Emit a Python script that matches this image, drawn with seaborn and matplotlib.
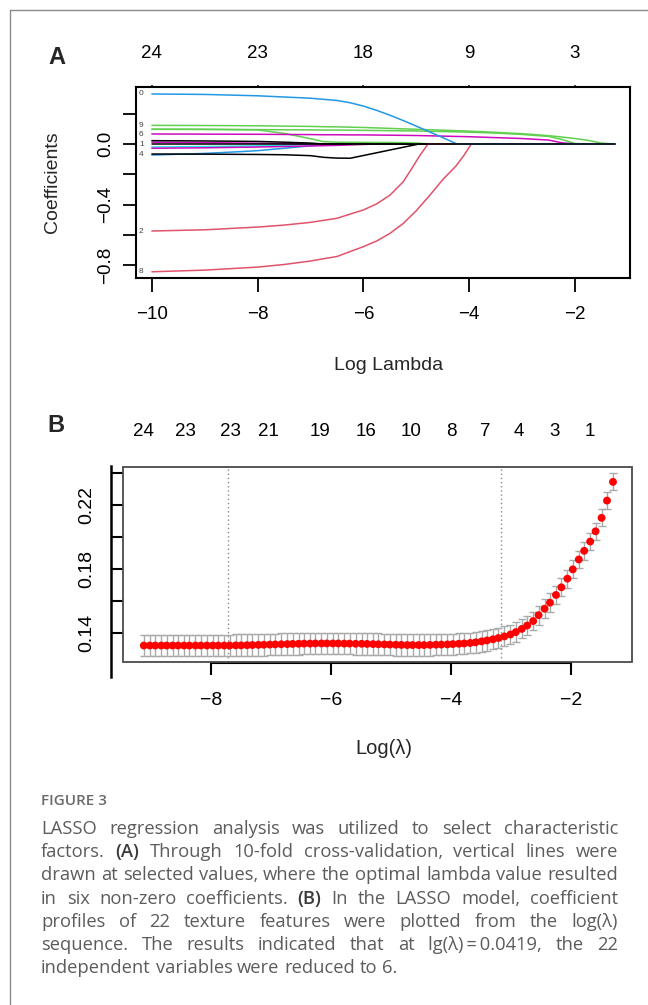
import numpy as np
import pandas as pd
import matplotlib
matplotlib.use("Agg")
import matplotlib.pyplot as plt
import seaborn as sns
from matplotlib.lines import Line2D
from matplotlib.patches import Rectangle
from matplotlib.transforms import blended_transform_factory

# ---------------- Panel A data (coefficient paths) ----------------
log_lambda_a = [-10, -9, -8, -7.5, -7, -6.75, -6.5, -6.25, -6, -5.75, -5.5, -5.25,
                -5, -4.75, -4.5, -4.25, -4, -3.5, -3, -2.5, -2.25, -2, -1.75, -1.5, -1.24]
coef_green1 = [0.123, 0.122, 0.120, 0.118, 0.116, 0.114, 0.113, 0.111, 0.109, 0.106, 0.103, 0.100,
               0.097, 0.094, 0.091, 0.088, 0.085, 0.077, 0.068, 0.055, 0.046, 0.036, 0.024, 0.006, 0]
coef_green2 = [0.098, 0.097, 0.095, 0.094, 0.093, 0.092, 0.092, 0.091, 0.090, 0.089, 0.088, 0.087,
               0.086, 0.084, 0.082, 0.080, 0.078, 0.072, 0.063, 0.050, 0.030, 0.003, 0, 0, 0]
coef_green3 = [0.097, 0.096, 0.093, 0.070, 0.035, 0.015, 0.012, 0.011, 0.011, 0.010, 0.010, 0.009,
               0.006, 0, 0, 0, 0, 0, 0, 0, 0, 0, 0, 0, 0]
coef_magenta_top = [0.066, 0.065, 0.064, 0.063, 0.062, 0.061, 0.061, 0.060, 0.060, 0.059, 0.058, 0.057,
                    0.056, 0.054, 0.052, 0.050, 0.048, 0.042, 0.036, 0.026, 0.008, 0, 0, 0, 0]
coef_zero = [0] * 25

red8_x = [-10, -9, -8, -7.5, -7, -6.5, -6, -5.75, -5.5, -5.25, -5, -4.75, -4.5, -4.25, -4.1, -3.96, -1.24]
red8_y = [-0.843, -0.832, -0.812, -0.795, -0.772, -0.742, -0.677, -0.640, -0.590, -0.525, -0.440,
          -0.340, -0.235, -0.145, -0.075, 0, 0]
red2_x = [-10, -9, -8, -7.5, -7, -6.5, -6, -5.75, -5.5, -5.25, -5.1, -4.95, -4.78, -1.24]
red2_y = [-0.574, -0.566, -0.548, -0.535, -0.517, -0.490, -0.435, -0.395, -0.338, -0.250, -0.170,
          -0.085, 0, 0]
blue_top_x = [-10, -9, -8, -7, -6.5, -6.25, -6, -5.75, -5.5, -5.25, -5, -4.75, -4.5, -4.23, -1.24]
blue_top_y = [0.330, 0.327, 0.318, 0.302, 0.287, 0.272, 0.250, 0.222, 0.190, 0.155, 0.118, 0.080,
              0.042, 0, 0]
black_low_x = [-10, -9, -8, -7.5, -7, -6.75, -6.5, -6.25, -5.6, -4.95, -1.24]
black_low_y = [-0.066, -0.067, -0.069, -0.071, -0.077, -0.088, -0.093, -0.094, -0.047, 0, 0]
blue_low_x = [-10, -9, -8.3, -8, -7.37, -6.86, -6.7, -1.24]
blue_low_y = [-0.073, -0.062, -0.050, -0.044, -0.024, -0.007, 0, 0]
black_up_x = [-10, -9, -8, -7.5, -7, -6.75, -1.24]
black_up_y = [0.022, 0.020, 0.017, 0.012, 0.006, 0, 0]
magenta_mid_x = [-10, -9, -8, -7.5, -7, -1.24]
magenta_mid_y = [0.012, 0.009, 0.005, 0.003, 0, 0]
magenta_low_x = [-10, -9, -8, -7, -6.5, -6, -5.75, -1.24]
magenta_low_y = [-0.028, -0.025, -0.020, -0.013, -0.009, -0.003, 0, 0]
cyan_x = [-10, -9, -8, -7.5, -7, -6.75, -1.24]
cyan_y = [-0.020, -0.017, -0.012, -0.008, -0.003, 0, 0]

a_xticks = [-10, -8, -6, -4, -2]
a_xticklabels = ["\u221210", "\u22128", "\u22126", "\u22124", "\u22122"]
a_top_labels = ["24", "23", "18", "9", "3"]
a_yticks = [0.2, 0.0, -0.2, -0.4, -0.6, -0.8]
a_yticklabels = ["", "0.0", "", "\u22120.4", "", "\u22120.8"]
a_var_labels = ["0", "9", "6", "1", "4", "2", "8"]
a_var_label_y = [0.330, 0.125, 0.060, -0.005, -0.072, -0.574, -0.843]

# ---------------- Panel B data (cross-validation) ----------------
log_lambda_b = [-9.12, -9.02, -8.93, -8.83, -8.74, -8.64, -8.55, -8.45, -8.36, -8.26,
                -8.17, -8.07, -7.97, -7.88, -7.78, -7.69, -7.59, -7.50, -7.40, -7.31,
                -7.21, -7.12, -7.02, -6.93, -6.83, -6.73, -6.64, -6.54, -6.45, -6.35,
                -6.26, -6.16, -6.07, -5.97, -5.88, -5.78, -5.69, -5.59, -5.49, -5.40,
                -5.30, -5.21, -5.11, -5.02, -4.92, -4.83, -4.73, -4.64, -4.54, -4.45,
                -4.35, -4.25, -4.16, -4.06, -3.97, -3.87, -3.78, -3.68, -3.59, -3.49,
                -3.40, -3.30, -3.21, -3.11, -3.01, -2.92, -2.82, -2.73, -2.63, -2.54,
                -2.44, -2.35, -2.25, -2.16, -2.06, -1.97, -1.87, -1.78, -1.68, -1.59,
                -1.49, -1.40, -1.30]
mse_b = [0.1322, 0.1322, 0.1322, 0.1322, 0.1322, 0.1322, 0.1322, 0.1322, 0.1322, 0.1322,
         0.1322, 0.1322, 0.1322, 0.1322, 0.1322, 0.1322, 0.1323, 0.1323, 0.1324, 0.1325,
         0.1326, 0.1327, 0.1328, 0.1329, 0.1330, 0.1331, 0.1332, 0.1333, 0.1334, 0.1334,
         0.1335, 0.1335, 0.1335, 0.1335, 0.1335, 0.1334, 0.1334, 0.1333, 0.1333, 0.1332,
         0.1331, 0.1330, 0.1329, 0.1328, 0.1327, 0.1326, 0.1325, 0.1325, 0.1325, 0.1325,
         0.1326, 0.1327, 0.1328, 0.1329, 0.1331, 0.1333, 0.1335, 0.1338, 0.1342, 0.1348,
         0.1354, 0.1361, 0.1369, 0.1379, 0.1391, 0.1406, 0.1426, 0.1447, 0.1475, 0.1512,
         0.1552, 0.1590, 0.1638, 0.1686, 0.1740, 0.1798, 0.1860, 0.1914, 0.1972, 0.2036,
         0.2120, 0.2228, 0.2345]
sd_b = [0.0068, 0.0068, 0.0068, 0.0068, 0.0068, 0.0068, 0.0068, 0.0068, 0.0068, 0.0068,
        0.0068, 0.0068, 0.0068, 0.0068, 0.0068, 0.0068, 0.0068, 0.0068, 0.0068, 0.0068,
        0.0068, 0.0068, 0.0068, 0.0068, 0.0068, 0.0068, 0.0068, 0.0068, 0.0068, 0.0068,
        0.0068, 0.0068, 0.0068, 0.0068, 0.0068, 0.0068, 0.0068, 0.0068, 0.0068, 0.0068,
        0.0068, 0.0068, 0.0068, 0.0068, 0.0068, 0.0068, 0.0068, 0.0068, 0.0068, 0.0068,
        0.0068, 0.0067, 0.0067, 0.0067, 0.0066, 0.0066, 0.0066, 0.0065, 0.0065, 0.0064,
        0.0064, 0.0063, 0.0063, 0.0062, 0.0062, 0.0061, 0.0060, 0.0060, 0.0059, 0.0059,
        0.0058, 0.0058, 0.0057, 0.0057, 0.0056, 0.0056, 0.0055, 0.0055, 0.0054, 0.0054,
        0.0053, 0.0053, 0.0053]
b_top_pos = [-9.13, -8.42, -7.68, -7.05, -6.18, -5.42, -4.67, -4.00, -3.43, -2.87, -2.28, -1.68]
b_top_labels = ["24", "23", "23", "21", "19", "16", "10", "8", "7", "4", "3", "1"]
b_vlines = [-7.72, -3.17]
b_xticks = [-8, -6, -4, -2]
b_xticklabels = ["\u22128", "\u22126", "\u22124", "\u22122"]
b_yticks = [0.14, 0.16, 0.18, 0.20, 0.22, 0.24]
b_yticklabels = ["0.14", "", "0.18", "", "0.22", ""]

caption_title = "FIGURE 3"
caption_lines = [
    "LASSO regression analysis was utilized to select characteristic",
    "factors. (A) Through 10-fold cross-validation, vertical lines were",
    "drawn at selected values, where the optimal lambda value resulted",
    "in six non-zero coefficients. (B) In the LASSO model, coefficient",
    "profiles of 22 texture features were plotted from the log(\u03bb)",
    "sequence. The results indicated that at lg(\u03bb)\u2009=\u20090.0419, the 22",
    "independent variables were reduced to 6.",
]

# ---------------- Figure ----------------
sns.set_style("white")
plt.rcParams['font.family'] = ['Liberation Sans', 'DejaVu Sans']
plt.rcParams['axes.unicode_minus'] = True

W, H = 648, 1005
fig = plt.figure(figsize=(W / 100, H / 100), dpi=100)
PT = 72 / 100  # points per pixel


def rect(x0, y0, x1, y1):
    return [x0 / W, 1 - y1 / H, (x1 - x0) / W, (y1 - y0) / H]


def fx(x):
    return x / W


def fy(y):
    return 1 - y / H


# outer frame lines
fig.add_artist(Line2D([fx(9.5), fx(9.5)], [fy(10.5), fy(1005)], color="#8a8a8a", lw=1.0))
fig.add_artist(Line2D([fx(9.5), fx(648)], [fy(10.5), fy(10.5)], color="#8a8a8a", lw=1.0))

# ---------------- Panel A ----------------
axA = fig.add_axes(rect(136, 87, 630, 278))
R_RED, R_GREEN, R_BLUE, R_CYAN, R_MAG = "#DF536B", "#61D04F", "#2297E6", "#28E2E5", "#CD0BBC"
curves = [
    (blue_low_x, blue_low_y, R_BLUE), (cyan_x, cyan_y, R_CYAN),
    (magenta_low_x, magenta_low_y, R_MAG), (magenta_mid_x, magenta_mid_y, R_MAG),
    (black_up_x, black_up_y, "black"), (log_lambda_a, coef_green3, R_GREEN),
    (log_lambda_a, coef_green2, R_GREEN), (log_lambda_a, coef_green1, R_GREEN),
    (log_lambda_a, coef_magenta_top, R_MAG), (black_low_x, black_low_y, "black"),
    (red2_x, red2_y, R_RED), (red8_x, red8_y, R_RED),
    (blue_top_x, blue_top_y, R_BLUE), (log_lambda_a, coef_zero, "black"),
]
for xs, ys, col in curves:
    sns.lineplot(x=xs, y=ys, color=col, lw=1.1, ax=axA, legend=False)

axA.set_xlim(-10.30, -0.96)
axA.set_ylim(-0.884, 0.376)
axA.set_xlabel("")
axA.set_ylabel("")
for s in axA.spines.values():
    s.set_visible(True)
    s.set_color("black")
    s.set_linewidth(1.5)
axA.set_xticks(a_xticks)
axA.set_xticklabels(a_xticklabels)
axA.set_yticks(a_yticks)
axA.set_yticklabels(a_yticklabels)
axA.tick_params(axis="x", direction="out", length=14 * PT, width=1.3, pad=14 * PT,
                labelsize=13.5, colors="black", bottom=True)
axA.tick_params(axis="y", direction="out", length=13 * PT, width=1.3, pad=9 * PT,
                labelsize=13.5, colors="black", left=True)
for lab in axA.get_yticklabels():
    lab.set_rotation(90)
    lab.set_va("center")
secA = axA.secondary_xaxis("top")
secA.set_xticks(a_xticks)
secA.set_xticklabels([""] * len(a_xticks))
secA.tick_params(length=2.5 * PT, width=1.2, direction="out")
secA.spines["top"].set_visible(False)

blendA = blended_transform_factory(axA.transData, axA.transAxes)
for xp, lab in zip(a_xticks, a_top_labels):
    axA.text(xp, 1 + (87 - 53) / 191, lab, transform=blendA, ha="center", va="center",
             fontsize=13.5, color="black")
for lab, yv in zip(a_var_labels, a_var_label_y):
    axA.text(-10.2, yv, lab, ha="center", va="center", fontsize=6, color="#444444")

fig.text(fx(57), fy(57), "A", fontsize=17, fontweight="bold", ha="center", va="center")
fig.text(fx(53), fy(182), "Coefficients", rotation=90, fontsize=14, ha="center", va="center")
fig.text(fx(389), fy(365), "Log Lambda", fontsize=14, ha="center", va="center")

# ---------------- Panel B ----------------
axB = fig.add_axes(rect(123, 467, 632, 662))
axB.errorbar(log_lambda_b, mse_b, yerr=sd_b, fmt="none", ecolor="darkgrey",
             elinewidth=1.0, capsize=2.8, capthick=1.0, zorder=2)
sns.scatterplot(x=log_lambda_b, y=mse_b, color="red", s=32, edgecolor="none",
                linewidth=0, ax=axB, zorder=3, legend=False)
for v in b_vlines:
    axB.axvline(v, ls=(0, (1, 2)), color="#8a8a8a", lw=1.0, zorder=1)

axB.set_xlim(-9.467, -0.983)
axB.set_ylim(0.1219, 0.2438)
axB.set_xlabel("")
axB.set_ylabel("")
axB.add_patch(Rectangle((0, 0), 1, 1, transform=axB.transAxes, fill=False,
                        ec="#4a4a4a", lw=1.3, clip_on=False, zorder=4))
axB.spines["top"].set_visible(False)
axB.spines["right"].set_visible(False)
axB.spines["left"].set_visible(True)
axB.spines["bottom"].set_visible(True)
axB.spines["left"].set_position(("outward", 12 * PT))
axB.spines["left"].set_bounds(0.1125, 0.2444)
axB.spines["left"].set_color("black")
axB.spines["left"].set_linewidth(1.8)
axB.spines["bottom"].set_position(("outward", 1 * PT))
axB.spines["bottom"].set_bounds(-8, -2)
axB.spines["bottom"].set_color("black")
axB.spines["bottom"].set_linewidth(1.5)
axB.set_xticks(b_xticks)
axB.set_xticklabels(b_xticklabels)
axB.set_yticks(b_yticks)
axB.set_yticklabels(b_yticklabels)
axB.tick_params(axis="x", direction="out", length=12 * PT, width=1.5, pad=17 * PT,
                labelsize=14, colors="black", bottom=True)
axB.tick_params(axis="y", direction="in", length=12 * PT, width=1.5, pad=16 * PT,
                labelsize=14, colors="black", left=True)
for lab in axB.get_yticklabels():
    lab.set_rotation(90)
    lab.set_va("center")

blendB = blended_transform_factory(axB.transData, axB.transAxes)
for xp, lab in zip(b_top_pos, b_top_labels):
    axB.text(xp, 1 + (467 - 432) / 195, lab, transform=blendB, ha="center", va="center",
             fontsize=13.5, color="black")

fig.text(fx(56), fy(425), "B", fontsize=17, fontweight="bold", ha="center", va="center")
fig.text(fx(384), fy(748), "Log(\u03bb)", fontsize=14.5, ha="center", va="center")

# ---------------- Caption (justified) ----------------
CAP_FONT = ["Open Sans", "DejaVu Sans"]
CAP_COLOR = "#5c5c5c"
CAP_SIZE = 13.2
fig.text(fx(41), fy(801), caption_title, fontsize=11, fontweight="semibold",
         color="#6a6a6a", family=CAP_FONT, ha="left", va="center")

renderer = fig.canvas.get_renderer()
x_left, x_right = 41, 618
y0, dy = 829, 23.2
for i, line in enumerate(caption_lines):
    words = line.split(" ")
    ypos = fy(y0 + i * dy)
    texts = []
    widths = []
    for w in words:
        bold = w in ("(A)", "(B)")
        t = fig.text(0, ypos, w, fontsize=CAP_SIZE, family=CAP_FONT,
                     color="#3a3a3a" if bold else CAP_COLOR,
                     fontweight="semibold" if bold else "normal",
                     ha="left", va="center")
        texts.append(t)
        widths.append(t.get_window_extent(renderer=renderer).width)
    last = (i == len(caption_lines) - 1)
    if last or len(words) == 1:
        space = fig.text(0, 0, "a a", fontsize=CAP_SIZE, family=CAP_FONT)
        sw = space.get_window_extent(renderer=renderer).width
        space.remove()
        aa = fig.text(0, 0, "aa", fontsize=CAP_SIZE, family=CAP_FONT)
        sw -= aa.get_window_extent(renderer=renderer).width
        aa.remove()
        gap = sw
    else:
        gap = (x_right - x_left - sum(widths)) / (len(words) - 1)
    xc = x_left
    for t, wdt in zip(texts, widths):
        t.set_x(fx(xc))
        xc += wdt + gap

fig.savefig("out.png", dpi=100)
